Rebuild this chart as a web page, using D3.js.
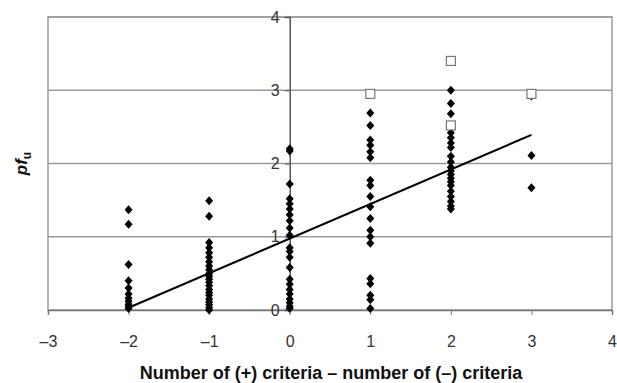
<!DOCTYPE html>
<html>
<head>
<meta charset="utf-8">
<script src="https://cdn.jsdelivr.net/npm/d3@7"></script>
<style>
  body { margin: 0; background: #fff; }
  text { font-family: "Liberation Sans", Arial, sans-serif; }
</style>
</head>
<body>
<div id="chart"></div>
<script>
// filled diamonds: one array of pf_u values per x position
const xValues = [-2, -1, 0, 1, 2, 3];
const filledPoints = [
  [1.37, 1.17, 0.62, 0.40, 0.30, 0.22, 0.16, 0.12, 0.08, 0.05, 0.02],
  [1.49, 1.28, 0.92, 0.85, 0.78, 0.72, 0.66, 0.60, 0.55, 0.50, 0.46, 0.42, 0.38, 0.33, 0.28, 0.24, 0.20, 0.15, 0.11, 0.07, 0.03, 0.0],
  [2.20, 2.17, 1.72, 1.52, 1.45, 1.38, 1.30, 1.22, 1.12, 1.02, 0.85, 0.80, 0.72, 0.58, 0.42, 0.35, 0.28, 0.22, 0.15, 0.10, 0.05, 0.02],
  [2.69, 2.52, 2.32, 2.25, 2.16, 2.08, 1.77, 1.70, 1.55, 1.41, 1.25, 1.09, 1.00, 0.91, 0.43, 0.36, 0.20, 0.14, 0.02],
  [3.00, 2.82, 2.68, 2.42, 2.35, 2.28, 2.22, 2.10, 2.02, 1.95, 1.90, 1.85, 1.80, 1.75, 1.70, 1.62, 1.55, 1.48, 1.42, 1.38],
  [2.92, 2.11, 1.67]
];
// open squares (outliers)
const openX = [1, 2, 2, 3];
const openY = [2.95, 3.40, 2.52, 2.95];
// regression line
const trendRange = [-2, 3];
const trendSlope = 0.472;
const trendIntercept = 0.975;

const xTicks = [-3, -2, -1, 0, 1, 2, 3, 4];
const yTicks = [0, 1, 2, 3, 4];

const width = 617, height = 383;
const margin = { top: 17, right: 5, bottom: 73, left: 48 };

const svg = d3.select('#chart').append('svg')
  .attr('width', width)
  .attr('height', height);

const x = d3.scaleLinear().domain([-3, 4]).range([margin.left, width - margin.right]);
const y = d3.scaleLinear().domain([0, 4]).range([height - margin.bottom, margin.top]);

// gridlines
svg.append('g')
  .selectAll('line')
  .data(yTicks.filter(d => d > 0))
  .enter().append('line')
  .attr('x1', x(-3)).attr('x2', x(4))
  .attr('y1', d => y(d)).attr('y2', d => y(d))
  .attr('stroke', '#9a9a9a')
  .attr('stroke-width', 1.5);

// plot border
svg.append('rect')
  .attr('x', x(-3)).attr('y', y(4))
  .attr('width', x(4) - x(-3)).attr('height', y(0) - y(4))
  .attr('fill', 'none')
  .attr('stroke', '#9a9a9a')
  .attr('stroke-width', 1.5);

const fmt = d => d < 0 ? '\u2013' + Math.abs(d) : String(d);

// x axis on y = 0
const xAxis = svg.append('g')
  .attr('transform', `translate(0,${y(0)})`)
  .call(d3.axisBottom(x).tickValues(xTicks).tickFormat(fmt).tickSize(5).tickPadding(21));
xAxis.select('.domain').attr('stroke', '#777').attr('stroke-width', 1.5);
xAxis.selectAll('.tick line').attr('stroke', '#777');
xAxis.selectAll('text').style('font-size', '16px').attr('fill', '#333');

// y axis on x = 0
const yAxis = svg.append('g')
  .attr('transform', `translate(${x(0)},0)`)
  .call(d3.axisLeft(y).tickValues(yTicks).tickFormat(d3.format('d')).tickSize(5).tickPadding(5));
yAxis.select('.domain').attr('stroke', '#555').attr('stroke-width', 1.5);
yAxis.selectAll('.tick line').attr('stroke', '#555');
yAxis.selectAll('text').style('font-size', '16px').attr('fill', '#333');

// regression line
const line = d3.line().x(d => x(d)).y(d => y(trendIntercept + trendSlope * d));
svg.append('path')
  .datum(trendRange)
  .attr('fill', 'none')
  .attr('stroke', '#000')
  .attr('stroke-width', 2)
  .attr('d', line);

// diamonds
const flat = [];
xValues.forEach((xv, i) => filledPoints[i].forEach(v => flat.push({ x: xv, y: v })));
svg.append('g')
  .selectAll('path')
  .data(flat)
  .enter().append('path')
  .attr('d', 'M0,-4.5L4,0L0,4.5L-4,0Z')
  .attr('transform', d => `translate(${x(d.x)},${y(d.y)})`)
  .attr('fill', '#000');

// open squares
svg.append('g')
  .selectAll('rect')
  .data(openX.map((xv, i) => ({ x: xv, y: openY[i] })))
  .enter().append('rect')
  .attr('x', d => x(d.x) - 4.5)
  .attr('y', d => y(d.y) - 4.5)
  .attr('width', 9).attr('height', 9)
  .attr('fill', '#fff')
  .attr('stroke', '#777')
  .attr('stroke-width', 1.2);

// axis titles
svg.append('text')
  .attr('x', 331)
  .attr('y', 379)
  .attr('text-anchor', 'middle')
  .style('font-size', '18px')
  .style('font-weight', 'bold')
  .attr('fill', '#111')
  .text('Number of (+) criteria \u2013 number of (\u2013) criteria');

const yt = svg.append('text')
  .attr('transform', `translate(27,${y(2)}) rotate(-90)`)
  .attr('text-anchor', 'middle')
  .style('font-size', '17px')
  .style('font-weight', 'bold')
  .attr('fill', '#111');
yt.append('tspan').style('font-style', 'italic').text('pf');
yt.append('tspan').attr('dy', 4).style('font-size', '12px').text('u');
</script>
</body>
</html>
